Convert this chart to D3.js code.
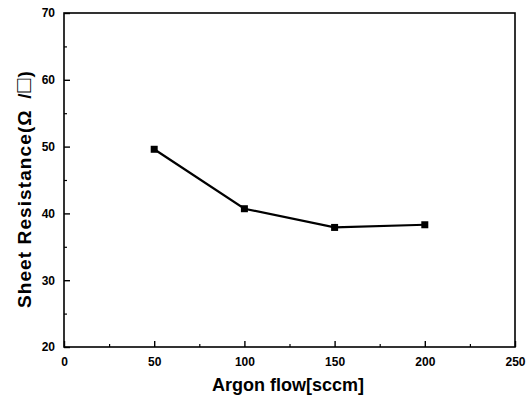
<!DOCTYPE html>
<html>
<head>
<meta charset="utf-8">
<script src="https://cdn.jsdelivr.net/npm/d3@7"></script>
<style>
  body { margin: 0; background: #fff; }
  svg text { font-family: "Liberation Sans", Arial, sans-serif; font-weight: bold; fill: #000; }
</style>
</head>
<body>
<div id="chart"></div>
<script>
// values
var flow = [50, 100, 150, 200];
var resistance = [49.6, 40.7, 37.9, 38.3];
var xTicks = [0, 50, 100, 150, 200, 250];
var yTicks = [20, 30, 40, 50, 60, 70];

var W = 531, H = 399;
var plotL = 64, plotR = 515, plotT = 13, plotB = 347;

var svg = d3.select("#chart").append("svg")
    .attr("width", W)
    .attr("height", H);

var x = d3.scaleLinear().domain([0, 250]).range([plotL, plotR]);
var y = d3.scaleLinear().domain([20, 70]).range([plotB, plotT]);

// frame
svg.append("rect")
    .attr("x", plotL).attr("y", plotT)
    .attr("width", plotR - plotL).attr("height", plotB - plotT)
    .attr("fill", "none").attr("stroke", "#000").attr("stroke-width", 1.6);

// x axis, ticks inward
var xAxis = svg.append("g").attr("transform", "translate(0," + plotB + ")")
    .call(d3.axisBottom(x).tickValues(xTicks).tickSize(-6).tickPadding(10).tickFormat(d3.format("d")));
xAxis.select(".domain").remove();
xAxis.selectAll("text").attr("font-size", 12).attr("font-family", null);
xAxis.selectAll("line").attr("stroke-width", 1.4);

var xMinor = svg.append("g").attr("transform", "translate(0," + plotB + ")")
    .call(d3.axisBottom(x).tickValues(d3.range(25, 250, 50)).tickSize(-3).tickFormat(""));
xMinor.select(".domain").remove();
xMinor.selectAll("line").attr("stroke-width", 1.2);

// y axis
var yAxis = svg.append("g").attr("transform", "translate(" + plotL + ",0)")
    .call(d3.axisLeft(y).tickValues(yTicks).tickSize(-6).tickPadding(9).tickFormat(d3.format("d")));
yAxis.select(".domain").remove();
yAxis.selectAll("text").attr("font-size", 12).attr("font-family", null);
yAxis.selectAll("line").attr("stroke-width", 1.4);

var yMinor = svg.append("g").attr("transform", "translate(" + plotL + ",0)")
    .call(d3.axisLeft(y).tickValues(d3.range(25, 70, 10)).tickSize(-3).tickFormat(""));
yMinor.select(".domain").remove();
yMinor.selectAll("line").attr("stroke-width", 1.2);

// data line
var pts = flow.map(function(f, i) { return [f, resistance[i]]; });
svg.append("path")
    .datum(pts)
    .attr("fill", "none")
    .attr("stroke", "#000")
    .attr("stroke-width", 2.2)
    .attr("d", d3.line().x(function(d) { return x(d[0]); }).y(function(d) { return y(d[1]); }));

svg.selectAll("rect.pt").data(pts).enter().append("rect")
    .attr("class", "pt")
    .attr("x", function(d) { return x(d[0]) - 3.5; })
    .attr("y", function(d) { return y(d[1]) - 3.5; })
    .attr("width", 7).attr("height", 7)
    .attr("fill", "#000");

// axis titles
svg.append("text")
    .attr("x", 288)
    .attr("y", 391)
    .attr("text-anchor", "middle")
    .attr("font-size", 18)
    .text("Argon flow[sccm]");

var yt = svg.append("text")
    .attr("transform", "translate(31,189) rotate(-90)")
    .attr("text-anchor", "middle")
    .attr("font-size", 19)
    .attr("letter-spacing", 1.1);
yt.append("tspan").text("Sheet Resistance(\u03A9\u2002/");
yt.append("tspan").attr("font-weight", "normal").attr("font-size", 23).text("\u25A1");
yt.append("tspan").text(")");
</script>
</body>
</html>
